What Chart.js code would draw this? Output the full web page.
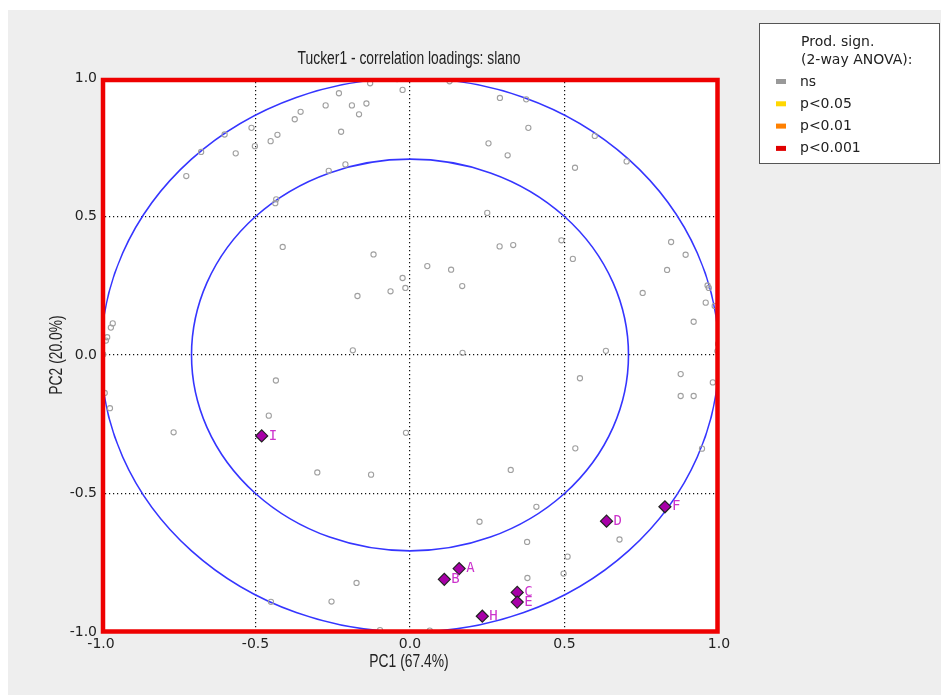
<!DOCTYPE html>
<html>
<head>
<meta charset="utf-8">
<title>Tucker1 - correlation loadings: slano</title>
<script src="https://cdn.jsdelivr.net/npm/chart.js@4.4.1/dist/chart.umd.min.js"></script>
<style>
    html, body { margin: 0; padding: 0; background: #ffffff; }
</style>
</head>
<body>
<canvas id="myChart" width="941" height="695"></canvas>
<script>
// variable loadings (all "ns")
var varX = [-0.129, -0.042, -0.024, -0.230, -0.273, -0.188, -0.141, -0.165, -0.354, -0.373,
            -0.513, -0.429, -0.451, -0.502, -0.600, -0.676, -0.564, -0.223, -0.724, -0.263,
            -0.209, -0.433, -0.436, -0.412, -0.118, -0.024, -0.015, -0.063, -0.170, -0.185,
            -0.962, -0.968, -0.980, -0.984, -0.993, 0.128, 0.291, 0.376, 0.383, 0.254,
            0.316, 0.598, 0.701, 0.534, 0.250, 0.290, 0.334, 0.490, 0.527, 0.056,
            0.133, 0.169, 0.845, 0.892, 0.832, 0.753, 0.963, 0.967, 0.957, 0.986,
            0.918, 0.170, 0.634, 0.997, 0.995, -0.434, -0.988, -0.971, -0.457, -0.765,
            -0.013, -0.300, -0.126, -0.173, -0.254, -0.450, -0.097, 0.876, 0.980, 0.876,
            0.918, 0.550, 0.535, 0.945, 0.326, 0.409, 0.225, 0.379, 0.678, 0.510,
            0.497, 0.380, 0.064];
var varY = [0.981, 0.996, 0.957, 0.945, 0.901, 0.901, 0.908, 0.869, 0.878, 0.851,
            0.820, 0.795, 0.772, 0.754, 0.796, 0.733, 0.728, 0.806, 0.646, 0.665,
            0.688, 0.562, 0.548, 0.390, 0.363, 0.278, 0.242, 0.230, 0.213, 0.017,
            0.114, 0.099, 0.064, 0.052, 0.002, 0.988, 0.928, 0.923, 0.820, 0.764,
            0.721, 0.791, 0.699, 0.676, 0.513, 0.392, 0.397, 0.414, 0.347, 0.321,
            0.308, 0.249, 0.408, 0.362, 0.307, 0.224, 0.251, 0.242, 0.189, 0.177,
            0.120, 0.008, 0.015, 0.040, 0.014, -0.092, -0.137, -0.192, -0.219, -0.279,
            -0.281, -0.424, -0.432, -0.823, -0.890, -0.891, -0.993, -0.069, -0.099, -0.148,
            -0.148, -0.084, -0.337, -0.338, -0.415, -0.548, -0.602, -0.675, -0.666, -0.728,
            -0.789, -0.805, -0.995];

// product scores
var prodNames = ['A', 'B', 'C', 'D', 'E', 'F', 'H', 'I'];
var prodX = [0.159, 0.111, 0.347, 0.636, 0.347, 0.825, 0.234, -0.480];
var prodY = [-0.771, -0.810, -0.857, -0.600, -0.892, -0.548, -0.943, -0.292];

var sigLabels = ['ns', 'p<0.05', 'p<0.01', 'p<0.001'];
var sigColors = ['#999999', '#ffd700', '#ff8000', '#e00000'];
var legendTitle = ['Prod. sign.', '(2-way ANOVA):'];

var chartTitle = 'Tucker1 - correlation loadings: slano';
var xTitle = 'PC1 (67.4%)';
var yTitle = 'PC2 (20.0%)';

var tickVals = [-1.0, -0.5, 0.0, 0.5, 1.0];
var tickLabels = ['-1.0', '-0.5', '0.0', '0.5', '1.0'];
var circleRadii = [1.0, Math.sqrt(0.5)];

var plainFont = "'DejaVu Sans', Verdana, sans-serif";
var titleFont = "18px 'Liberation Sans', Arial, sans-serif";
var squeeze = 0.77; // the title font in the picture is condensed

function toPoints(xs, ys) {
    return xs.map(function (x, i) { return { x: x, y: ys[i] }; });
}

// significance groups: only "ns" has variables here
var sigSets = sigLabels.map(function (lab, i) {
    return {
        label: lab,
        sig: true,
        data: i === 0 ? toPoints(varX, varY) : [],
        pointStyle: 'circle',
        pointRadius: 2.6,
        pointHoverRadius: 2.6,
        borderWidth: 1.1,
        borderColor: i === 0 ? '#a0a0a0' : sigColors[i],
        backgroundColor: 'rgba(0,0,0,0)'
    };
});

var prodSet = {
    label: 'Products',
    products: true,
    data: toPoints(prodX, prodY),
    pointStyle: 'rectRot',
    pointRadius: 6,
    pointHoverRadius: 6,
    borderWidth: 1.2,
    borderColor: '#222222',
    backgroundColor: '#a800a8'
};

function squeezedText(ctx, text, x, y, rot) {
    ctx.save();
    ctx.translate(x, y);
    if (rot) ctx.rotate(rot);
    ctx.scale(squeeze, 1);
    ctx.fillText(text, 0, 0);
    ctx.restore();
}

var bgPlugin = {
    id: 'bgPlugin',
    beforeDraw: function (chart) {
        var ctx = chart.ctx, a = chart.chartArea;
        ctx.save();
        ctx.fillStyle = '#eeeeee';
        ctx.fillRect(8, 10, chart.width - 8, chart.height - 10);
        ctx.fillStyle = '#ffffff';
        ctx.fillRect(a.left, a.top, a.right - a.left, a.bottom - a.top);
        ctx.restore();
    },
    beforeDatasetsDraw: function (chart) {
        var ctx = chart.ctx, a = chart.chartArea;
        var xs = chart.scales.x, ys = chart.scales.y;
        var cx = xs.getPixelForValue(0), cy = ys.getPixelForValue(0);
        ctx.save();
        ctx.beginPath();
        ctx.rect(a.left, a.top, a.right - a.left, a.bottom - a.top);
        ctx.clip();
        ctx.strokeStyle = '#3535ff';
        ctx.lineWidth = 1.6;
        circleRadii.forEach(function (r) {
            var rx = xs.getPixelForValue(r) - cx;
            var ry = cy - ys.getPixelForValue(r);
            ctx.beginPath();
            ctx.ellipse(cx, cy, rx, ry, 0, 0, Math.PI * 2);
            ctx.stroke();
        });
        ctx.restore();
    },
    afterDraw: function (chart) {
        var ctx = chart.ctx, a = chart.chartArea;
        var midX = (a.left + a.right) / 2, midY = (a.top + a.bottom) / 2;
        ctx.save();
        // red frame
        ctx.strokeStyle = '#ee0000';
        ctx.lineWidth = 4.5;
        ctx.strokeRect(a.left + 2, a.top + 2, a.right - a.left - 3.5, a.bottom - a.top - 2.5);

        // titles
        ctx.fillStyle = '#222222';
        ctx.font = titleFont;
        ctx.textAlign = 'center';
        ctx.textBaseline = 'alphabetic';
        squeezedText(ctx, chartTitle, midX - 1, 64);
        squeezedText(ctx, xTitle, midX - 1, 667);
        squeezedText(ctx, yTitle, 62, midY, -Math.PI / 2);

        // product labels
        ctx.font = "14px 'DejaVu Sans Mono', monospace";
        ctx.fillStyle = '#cc33cc';
        ctx.textBaseline = 'middle';
        ctx.textAlign = 'left';
        chart.data.datasets.forEach(function (ds, di) {
            if (!ds.products) return;
            chart.getDatasetMeta(di).data.forEach(function (pt, i) {
                ctx.fillText(prodNames[i], pt.x + 7, pt.y);
            });
        });

        // legend box
        ctx.fillStyle = '#ffffff';
        ctx.fillRect(759.5, 23.5, 180, 140);
        ctx.strokeStyle = '#555555';
        ctx.lineWidth = 1;
        ctx.strokeRect(759.5, 23.5, 180, 140);
        ctx.fillStyle = '#222222';
        ctx.font = '14px ' + plainFont;
        ctx.textBaseline = 'alphabetic';
        ctx.fillText(legendTitle[0], 801, 46);
        ctx.fillText(legendTitle[1], 801, 63.5);
        var row = 0;
        chart.data.datasets.forEach(function (ds) {
            if (!ds.sig) return;
            var base = 85.5 + row * 22.3;
            ctx.fillStyle = sigColors[row];
            ctx.fillRect(776, base - 6.5, 10, 5);
            ctx.fillStyle = '#222222';
            ctx.fillText(ds.label, 800, base);
            row++;
        });
        ctx.restore();
    }
};

function gridColor(c) {
    var v = c.tick ? c.tick.value : 0;
    return Math.abs(v) > 0.99 ? 'rgba(0,0,0,0)' : '#111111';
}

var ctx = document.getElementById('myChart').getContext('2d');
var myChart = new Chart(ctx, {
    type: 'scatter',
    data: {
        datasets: sigSets.concat([prodSet])
    },
    plugins: [bgPlugin],
    options: {
        responsive: false,
        animation: false,
        events: [],
        layout: {
            autoPadding: false,
            padding: { left: 0, top: 78, right: 222, bottom: 0 }
        },
        plugins: {
            legend: { display: false },
            tooltip: { enabled: false },
            title: { display: false }
        },
        scales: {
            x: {
                type: 'linear',
                min: -1,
                max: 1,
                afterFit: function (s) { s.height = 63; },
                afterBuildTicks: function (s) {
                    s.ticks = tickVals.map(function (v) { return { value: v }; });
                },
                ticks: {
                    padding: 4,
                    color: '#222222',
                    font: { family: plainFont, size: 14 },
                    maxRotation: 0,
                    callback: function (v, i) { return tickLabels[i]; }
                },
                grid: { color: gridColor, lineWidth: 1.2, drawTicks: false },
                border: { display: false, dash: [1.2, 2.8] }
            },
            y: {
                type: 'linear',
                min: -1,
                max: 1,
                afterFit: function (s) { s.width = 101; },
                afterBuildTicks: function (s) {
                    s.ticks = tickVals.map(function (v) { return { value: v }; });
                },
                ticks: {
                    padding: 4,
                    color: '#222222',
                    font: { family: plainFont, size: 14 },
                    callback: function (v, i) { return tickLabels[i]; }
                },
                grid: { color: gridColor, lineWidth: 1.2, drawTicks: false },
                border: { display: false, dash: [1.2, 2.8] }
            }
        }
    }
});
</script>
</body>
</html>
